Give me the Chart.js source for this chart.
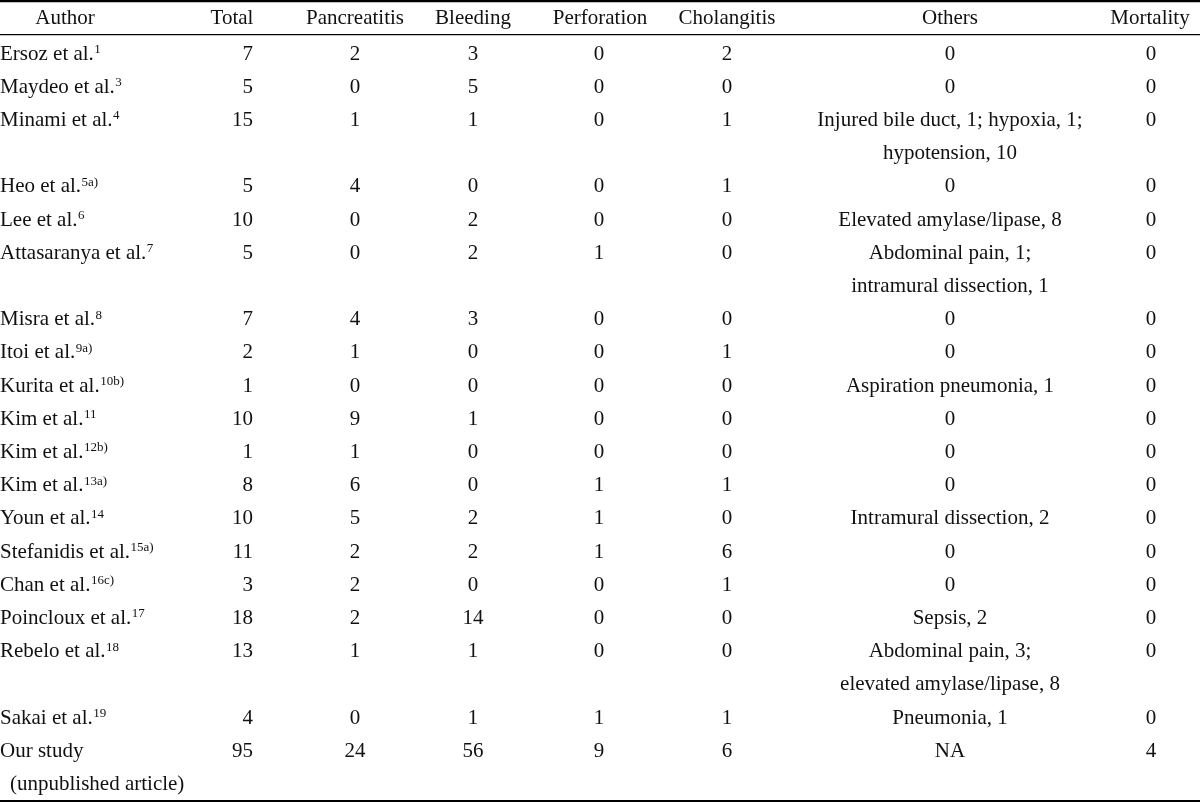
<!DOCTYPE html>
<html>
<head>
<meta charset="utf-8">
<script src="https://cdn.jsdelivr.net/npm/chart.js@4/dist/chart.umd.min.js"></script>
<style>
  html, body { margin: 0; padding: 0; background: #ffffff; }
  #wrap { width: 1200px; height: 803px; }
</style>
</head>
<body>
<div id="wrap"><canvas id="c" width="1200" height="803"></canvas></div>
<script>
// ---------------- DATA ----------------
const headers = ['Author', 'Total', 'Pancreatitis', 'Bleeding', 'Perforation', 'Cholangitis', 'Others', 'Mortality'];
const authors = [
  ['Ersoz et al.'], ['Maydeo et al.'], ['Minami et al.'], ['Heo et al.'], ['Lee et al.'],
  ['Attasaranya et al.'], ['Misra et al.'], ['Itoi et al.'], ['Kurita et al.'], ['Kim et al.'],
  ['Kim et al.'], ['Kim et al.'], ['Youn et al.'], ['Stefanidis et al.'], ['Chan et al.'],
  ['Poincloux et al.'], ['Rebelo et al.'], ['Sakai et al.'], ['Our study', '(unpublished article)']
];
const authorRefs = ['1', '3', '4', '5a)', '6', '7', '8', '9a)', '10b)', '11', '12b)', '13a)', '14', '15a)', '16c)', '17', '18', '19', ''];
const total        = [7, 5, 15, 5, 10, 5, 7, 2, 1, 10, 1, 8, 10, 11, 3, 18, 13, 4, 95];
const pancreatitis = [2, 0, 1, 4, 0, 0, 4, 1, 0, 9, 1, 6, 5, 2, 2, 2, 1, 0, 24];
const bleeding     = [3, 5, 1, 0, 2, 2, 3, 0, 0, 1, 0, 0, 2, 2, 0, 14, 1, 1, 56];
const perforation  = [0, 0, 0, 0, 0, 1, 0, 0, 0, 0, 0, 1, 1, 1, 0, 0, 0, 1, 9];
const cholangitis  = [2, 0, 1, 1, 0, 0, 0, 1, 0, 0, 0, 1, 0, 6, 1, 0, 0, 1, 6];
const others = [
  ['0'], ['0'], ['Injured bile duct, 1; hypoxia, 1;', 'hypotension, 10'], ['0'],
  ['Elevated amylase/lipase, 8'], ['Abdominal pain, 1;', 'intramural dissection, 1'],
  ['0'], ['0'], ['Aspiration pneumonia, 1'], ['0'], ['0'], ['0'], ['Intramural dissection, 2'],
  ['0'], ['0'], ['Sepsis, 2'], ['Abdominal pain, 3;', 'elevated amylase/lipase, 8'],
  ['Pneumonia, 1'], ['NA']
];
const mortality    = [0, 0, 0, 0, 0, 0, 0, 0, 0, 0, 0, 0, 0, 0, 0, 0, 0, 0, 4];

// ---------------- LAYOUT (positions / styles) ----------------
const FONT = '"Liberation Serif", "Times New Roman", serif';
const FONT_SIZE = 21;
const SUP_SIZE = 13;
const TEXT_COLOR = '#111111';
const colX      = [0, 253, 355, 473, 599, 727, 950, 1151];
const headerX   = [65, 232, 355, 473, 600, 727, 950, 1150];
const colAlign  = ['left', 'right', 'center', 'center', 'center', 'center', 'center', 'center'];
const SUB_INDENT = 10;      // indent of author's second line
// vertical scale is in "line slots": slot k = k-th text line of body
const Y_MIN = -1.627, Y_MAX = 22.56;
const HEADER_SLOT = -1.084;
const RULES = [ {y: -1.593, w: 2.2}, {y: -0.587, w: 1.2}, {y: 22.50, w: 2.2} ];

// compute starting slot of each row from its number of lines
const rowLines = authors.map((a, i) => Math.max(a.length, others[i].length));
const rowSlot = [];
rowLines.reduce((acc, n, i) => { rowSlot[i] = acc; return acc + n; }, 0);

const columns = [authors, total, pancreatitis, bleeding, perforation, cholangitis, others, mortality];

const datasets = [];
// header cells
datasets.push({
  type: 'scatter', label: 'header', kind: 'header',
  data: headers.map((h, j) => ({x: headerX[j], y: HEADER_SLOT, text: [h]})),
  pointRadius: 0, clip: false
});
// body columns
columns.forEach((col, j) => {
  datasets.push({
    type: 'scatter', label: headers[j], kind: 'cell', col: j,
    data: col.map((v, i) => ({
      x: colX[j], y: rowSlot[i],
      text: Array.isArray(v) ? v : [String(v)],
      sup: j === 0 ? authorRefs[i] : ''
    })),
    pointRadius: 0, clip: false
  });
});
// horizontal rules
RULES.forEach(r => {
  datasets.push({
    type: 'line', label: 'rule', kind: 'rule',
    data: [{x: 0, y: r.y}, {x: 1200, y: r.y}],
    borderColor: '#000000', borderWidth: r.w, pointRadius: 0, clip: false, fill: false
  });
});

const textPlugin = {
  id: 'tableText',
  afterDatasetsDraw(chart) {
    const ctx = chart.ctx;
    const yScale = chart.scales.y;
    chart.data.datasets.forEach((ds, di) => {
      if (ds.kind !== 'header' && ds.kind !== 'cell') return;
      const meta = chart.getDatasetMeta(di);
      meta.data.forEach((el, i) => {
        const pt = ds.data[i];
        const align = ds.kind === 'header' ? 'center' : colAlign[ds.col];
        ctx.save();
        ctx.fillStyle = TEXT_COLOR;
        ctx.textBaseline = 'middle';
        pt.text.forEach((line, li) => {
          const y = li === 0 ? el.y : yScale.getPixelForValue(pt.y + li);
          let x = el.x;
          if (ds.kind === 'cell' && ds.col === 0 && li > 0) x += SUB_INDENT;
          ctx.font = FONT_SIZE + 'px ' + FONT;
          ctx.textAlign = align;
          ctx.fillText(line, x, y);
          if (li === 0 && pt.sup) {
            const w = ctx.measureText(line).width;
            ctx.font = SUP_SIZE + 'px ' + FONT;
            ctx.textAlign = 'left';
            ctx.textBaseline = 'alphabetic';
            ctx.fillText(pt.sup, x + w + 0.5, y - 1);
            ctx.textBaseline = 'middle';
          }
        });
        ctx.restore();
      });
    });
  }
};

new Chart(document.getElementById('c'), {
  type: 'scatter',
  data: { datasets },
  options: {
    responsive: false,
    animation: false,
    devicePixelRatio: 1,
    layout: { padding: 0 },
    plugins: { legend: { display: false }, tooltip: { enabled: false }, title: { display: false } },
    events: [],
    scales: {
      x: { type: 'linear', min: 0, max: 1200, display: false },
      y: { type: 'linear', min: Y_MIN, max: Y_MAX, reverse: true, display: false }
    }
  },
  plugins: [textPlugin]
});
</script>
</body>
</html>
